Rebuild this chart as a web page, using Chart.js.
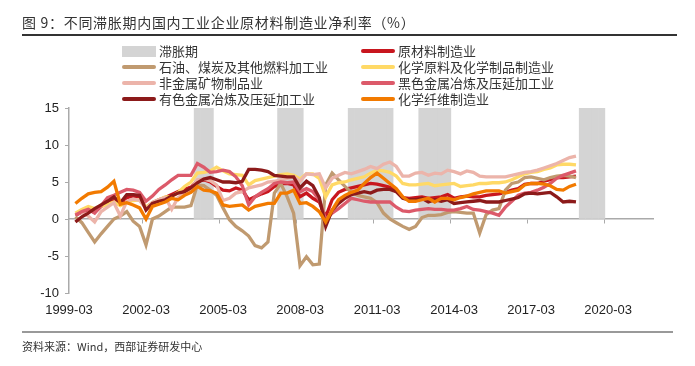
<!DOCTYPE html>
<html>
<head>
<meta charset="utf-8">
<script src="https://cdn.jsdelivr.net/npm/chart.js"></script>
<style>
  body { margin: 0; background: #fff; font-family: "Noto Sans CJK SC", sans-serif; }
  #wrap { position: relative; width: 695px; height: 366px; overflow: hidden; }
  #chart { position: absolute; left: 0; top: 0; }
  .title { position: absolute; left: 22px; top: 12px; font-size: 14px; letter-spacing: 0.7px; color: #333; line-height: 20px; white-space: nowrap; }
  .rule { position: absolute; left: 22px; width: 655px; }
  .item { position: absolute; font-size: 13px; color: #333; line-height: 16px; white-space: nowrap; }
  .item i { display: inline-block; width: 34px; height: 4px; border-radius: 2px; vertical-align: middle; margin-right: 3px; margin-top: -2px; }
  .item i.box { height: 11px; border-radius: 0; }
  .src { position: absolute; left: 22px; top: 338px; font-size: 11px; color: #333; line-height: 16px; white-space: nowrap; }
</style>
</head>
<body>
<div id="wrap">
  <canvas id="chart" width="695" height="366"></canvas>
  <div class="title">图 9：不同滞胀期内国内工业企业原材料制造业净利率（%）</div>
  <div class="rule" style="top:34px;height:1.5px;background:#333;"></div>
  <div id="legend"></div>
  <div class="rule" style="top:331px;height:2px;background:#999;width:651px;"></div>
  <div class="src">资料来源：Wind，西部证券研发中心</div>
</div>
<script>
// quarterly category labels 1999-03 .. 2021-12
var quarters = [];
for (var y = 1999; y <= 2021; y++) {
  ["03", "06", "09", "12"].forEach(function (m) { quarters.push(y + "-" + m); });
}

// quarters inside a stagflation period
var stagflation = [
  "2004-03", "2004-06", "2004-09",
  "2007-06", "2007-09", "2007-12", "2008-03",
  "2010-03", "2010-06", "2010-09", "2010-12", "2011-03", "2011-06", "2011-09",
  "2012-12", "2013-03", "2013-06", "2013-09", "2013-12",
  "2019-03", "2019-06", "2019-09", "2019-12"
];
var stagflationTop = 15;

// net profit margin (%), first value = 1999-03 (no data)
var rawMaterial = [null,
  0.5, 0.9, 1.3, 0.9, 1.7, 2.1, 2.5, 2.0, 2.9, 3.1, 3.0, 1.5, 2.2, 2.6, 2.9, 3.3,
  3.7, 4.0, 4.3, 5.1, 5.3, 5.0, 4.4, 3.9, 3.8, 4.2, 3.9, 2.6, 3.0, 3.4, 3.7, 4.4,
  4.8, 4.8, 4.6, 3.0, 3.5, 2.8, 2.3, 0.3, 2.6, 3.6, 4.0, 4.2, 4.4, 4.6, 4.8, 4.7,
  4.5, 4.3, 3.7, 2.9, 2.8, 2.9, 3.0, 2.8, 2.9, 3.0, 3.3, 2.8, 3.0, 3.1, 3.0, 3.0,
  3.2, 3.3, 3.4, 3.6, 3.9, 4.1, 4.7, 4.8, 4.8, 5.1, 5.3, 5.6, 5.6, 5.7, 5.8];
var petroleum = [null,
  0.3, -0.5, -1.8, -3.1, -2.0, -1.0, 0.0, 0.4, 1.0, -0.3, -1.0, -3.5, 0.0, 0.4, 1.0, 1.6,
  1.6, 1.6, 1.8, 4.6, 4.5, 3.9, 3.2, 1.5, -0.1, -1.0, -1.6, -2.3, -3.6, -3.9, -3.1, 3.5,
  4.8, 3.0, 0.8, -6.3, -5.1, -6.2, -6.1, 4.6, 6.2, 5.3, 4.4, 3.6, 3.2, 3.0, 2.8, 2.2,
  0.8, 0.0, -0.5, -1.0, -1.4, -1.0, 0.2, 0.5, 0.5, 0.6, 0.9, 1.0, 0.9, 0.8, 0.8, -1.9,
  0.6, 1.2, 1.4, 3.9, 4.8, 5.0, 5.6, 5.7, 5.5, 5.3, 5.6, 5.8, 5.9, 5.8, 5.6];
var chemical = [null,
  0.8, 1.3, 1.7, 1.4, 1.7, 2.0, 2.3, 1.8, 2.2, 2.5, 2.6, 1.6, 2.2, 2.6, 3.0, 3.0,
  3.6, 4.4, 5.0, 6.2, 6.3, 6.5, 7.0, 6.5, 6.1, 6.0, 5.9, 4.6, 5.2, 5.4, 5.6, 5.8,
  6.0, 6.1, 5.9, 5.4, 6.1, 6.1, 5.5, 3.0, 4.6, 4.9, 5.0, 5.3, 5.5, 5.7, 6.2, 6.6,
  6.5, 6.3, 5.8, 4.8, 4.6, 4.6, 4.7, 4.8, 4.5, 4.6, 4.7, 4.8, 4.4, 4.5, 4.6, 4.8,
  4.8, 4.9, 4.9, 5.0, 5.3, 5.7, 6.1, 6.3, 6.4, 6.7, 6.9, 7.3, 7.4, 7.4, 7.3];
var nonMetal = [null,
  0.6, 0.9, 0.4, -0.4, 1.0, 1.6, 2.2, 0.4, 2.4, 2.7, 2.5, 1.4, 2.2, 2.6, 2.9, 1.3,
  2.9, 3.4, 3.9, 5.3, 5.4, 5.2, 4.6, 2.5, 2.8, 3.5, 3.7, 4.2, 4.4, 4.6, 5.0, 5.1,
  5.3, 5.5, 5.7, 5.1, 6.1, 6.0, 6.1, 4.2, 5.5, 5.9, 6.3, 6.1, 6.4, 6.7, 7.1, 6.8,
  7.4, 7.7, 7.1, 5.8, 5.8, 6.2, 6.3, 5.9, 6.2, 6.1, 6.6, 6.4, 6.1, 6.5, 6.3, 5.8,
  5.7, 5.7, 5.7, 5.7, 5.9, 6.1, 6.3, 6.4, 6.6, 6.9, 7.2, 7.5, 7.9, 8.3, 8.5];
var ferrous = [null,
  0.5, 1.0, 1.3, 0.8, 1.8, 2.9, 3.2, 3.6, 4.0, 3.9, 3.6, 2.4, 3.1, 4.0, 4.6, 5.3,
  5.9, 5.9, 5.9, 7.5, 7.0, 6.3, 6.4, 6.6, 6.4, 5.7, 4.5, 1.9, 3.0, 3.6, 4.1, 4.8,
  5.0, 4.9, 5.0, 3.7, 4.1, 3.7, 2.6, -0.1, 0.8, 1.4, 2.1, 2.8, 2.6, 2.4, 2.3, 2.3,
  2.3, 2.3, 1.6, 1.1, 1.0, 1.2, 1.3, 1.4, 1.3, 1.3, 1.2, 1.2, 1.4, 1.7, 1.3, 1.2,
  1.0, 0.8, 0.5, 1.6, 2.4, 3.2, 3.5, 3.6, 3.9, 4.3, 4.8, 5.5, 5.9, 6.2, 6.5];
var nonFerrous = [null,
  -0.4, 0.3, 0.8, 1.4, 1.9, 2.4, 3.0, 2.2, 3.3, 3.3, 3.2, 1.2, 2.1, 2.4, 2.6, 3.1,
  3.5, 3.7, 4.2, 4.9, 5.4, 5.6, 5.3, 5.0, 5.0, 4.9, 5.1, 6.7, 6.7, 6.6, 6.4, 5.9,
  5.8, 5.7, 5.7, 4.2, 5.1, 4.5, 2.9, -1.0, 1.2, 2.1, 2.8, 3.3, 3.5, 3.7, 3.5, 3.9,
  4.0, 4.0, 3.7, 2.8, 2.6, 2.6, 2.8, 2.3, 2.6, 2.4, 2.6, 2.1, 2.2, 2.3, 2.4, 2.5,
  2.3, 2.3, 2.3, 2.5, 2.7, 2.9, 3.4, 3.5, 3.4, 3.5, 3.6, 3.0, 2.3, 2.4, 2.3];
var fiber = [null,
  2.1, 2.8, 3.4, 3.6, 3.7, 4.3, 5.1, 2.0, 2.2, 1.9, 1.5, 0.0, 1.7, 2.0, 2.3, 2.8,
  2.6, 3.2, 3.6, 4.4, 3.9, 3.8, 3.5, 1.9, 1.7, 1.8, 1.9, 1.2, 1.7, 1.9, 2.1, 2.1,
  3.5, 3.5, 3.9, 2.1, 2.2, 1.7, 1.0, -0.4, 1.2, 2.6, 3.2, 3.6, 3.9, 4.8, 5.6, 6.2,
  5.5, 4.8, 4.1, 3.0, 2.4, 2.4, 2.6, 2.8, 2.3, 2.8, 2.8, 2.6, 2.9, 3.1, 3.4, 3.6,
  3.8, 3.8, 3.8, 3.5, 3.7, 3.9, 4.6, 4.8, 4.8, 4.7, 4.5, 4.0, 3.9, 4.4, 4.7];

var yTicks = [-10, -5, 0, 5, 10, 15];

var series = [
  { name: "原材料制造业", data: rawMaterial, color: "#c8161e" },
  { name: "石油、煤炭及其他燃料加工业", data: petroleum, color: "#c09a70" },
  { name: "化学原料及化学制品制造业", data: chemical, color: "#ffd966" },
  { name: "非金属矿物制品业", data: nonMetal, color: "#ecb4aa" },
  { name: "黑色金属冶炼及压延加工业", data: ferrous, color: "#dc5a6a" },
  { name: "有色金属冶炼及压延加工业", data: nonFerrous, color: "#8c1a1a" },
  { name: "化学纤维制造业", data: fiber, color: "#f27a00" }
];

var barData = quarters.map(function (q) {
  return stagflation.indexOf(q) >= 0 ? stagflationTop : null;
});

var datasets = [{
  type: "bar",
  label: "滞胀期",
  data: barData,
  backgroundColor: "#d4d4d4",
  borderWidth: 0,
  barPercentage: 1,
  categoryPercentage: 1,
  order: 20
}];
series.forEach(function (s, i) {
  datasets.push({
    type: "line",
    label: s.name,
    data: s.data,
    borderColor: s.color,
    backgroundColor: s.color,
    borderWidth: 3.3,
    pointRadius: 0,
    tension: 0,
    fill: false,
    order: 10 - i
  });
});

// legend, two columns like the report
var legendItems = [
  { name: "滞胀期", color: "#d4d4d4", box: true, col: 0, row: 0 },
  { name: series[0].name, color: series[0].color, col: 1, row: 0 },
  { name: series[1].name, color: series[1].color, col: 0, row: 1 },
  { name: series[2].name, color: series[2].color, col: 1, row: 1 },
  { name: series[3].name, color: series[3].color, col: 0, row: 2 },
  { name: series[4].name, color: series[4].color, col: 1, row: 2 },
  { name: series[5].name, color: series[5].color, col: 0, row: 3 },
  { name: series[6].name, color: series[6].color, col: 1, row: 3 }
];
var rowTops = [43, 59, 75, 91];
var colLefts = [122, 361];
var legendHtml = "";
legendItems.forEach(function (it) {
  legendHtml += '<div class="item" style="left:' + colLefts[it.col] + 'px;top:' + rowTops[it.row] + 'px">' +
    '<i class="' + (it.box ? "box" : "") + '" style="background:' + it.color + '"></i>' + it.name + '</div>';
});
document.getElementById("legend").innerHTML = legendHtml;

var tickFont = { family: "'Liberation Sans', Arial, sans-serif", size: 13 };

new Chart("chart", {
  type: "line",
  data: { labels: quarters, datasets: datasets },
  options: {
    responsive: false,
    animation: false,
    layout: { padding: { left: 29, right: 42, top: 108, bottom: 48 } },
    plugins: { legend: { display: false }, tooltip: { enabled: false } },
    scales: {
      x: {
        type: "category",
        position: { y: 0 },
        offset: false,
        border: { color: "#aaaaaa", width: 1.5 },
        grid: {
          drawOnChartArea: false,
          tickLength: 4,
          color: function (ctx) { return ctx.index % 12 === 0 ? "#aaaaaa" : "rgba(0,0,0,0)"; }
        },
        ticks: { display: false, autoSkip: false }
      },
      x2: {
        type: "category",
        axis: "x",
        position: "bottom",
        offset: false,
        border: { display: false },
        grid: { display: false },
        ticks: {
          autoSkip: false,
          maxRotation: 0,
          padding: 2,
          color: "#222",
          font: tickFont,
          callback: function (v, i) { return i % 12 === 0 ? quarters[i] : null; }
        },
        afterFit: function (s) { s.height = 25; }
      },
      y: {
        min: yTicks[0],
        max: yTicks[yTicks.length - 1],
        border: { color: "#aaaaaa", width: 1.5 },
        grid: { drawOnChartArea: false, tickLength: 4, color: "#aaaaaa" },
        afterBuildTicks: function (s) { s.ticks = yTicks.map(function (v) { return { value: v }; }); },
        ticks: { color: "#222", font: tickFont, padding: 6 },
        afterFit: function (s) { s.width = 40; }
      }
    }
  }
});
</script>
</body>
</html>
